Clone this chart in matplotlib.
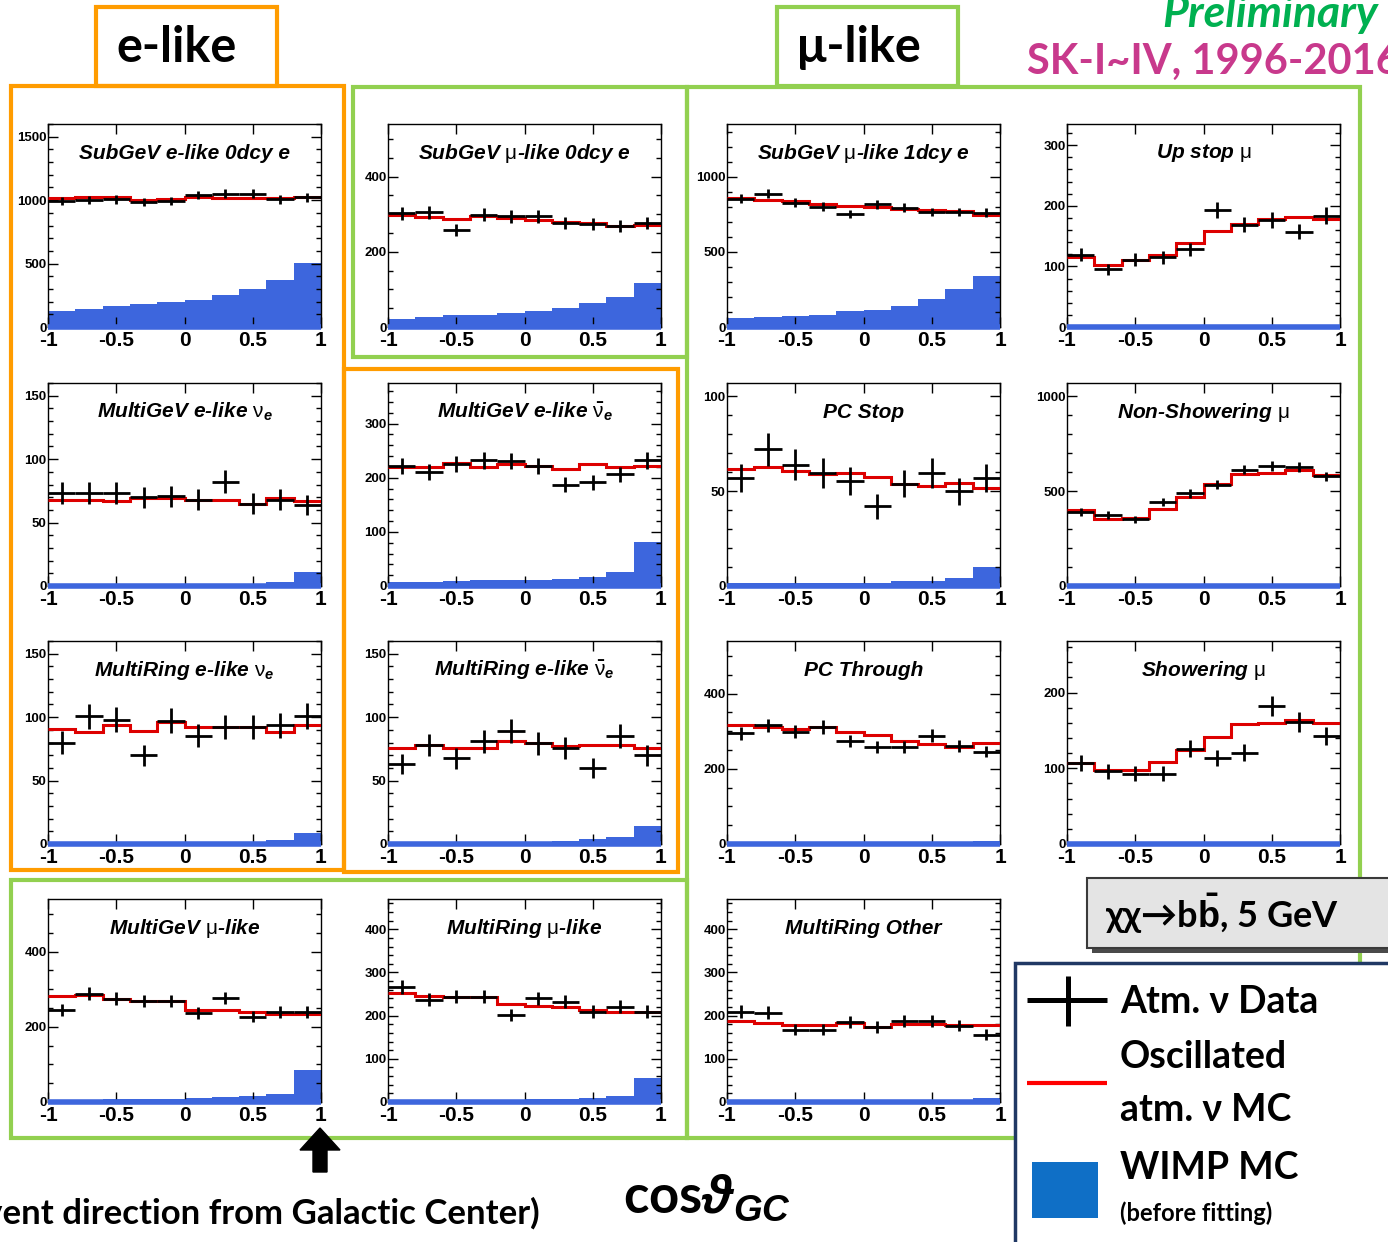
import numpy as np
import matplotlib
matplotlib.use('Agg')
import matplotlib.pyplot as plt
from matplotlib.ticker import MultipleLocator, FixedLocator
from matplotlib.patches import Rectangle

plt.rcParams['mathtext.fontset'] = 'custom'
plt.rcParams['mathtext.rm'] = 'Liberation Sans:bold'
plt.rcParams['mathtext.it'] = 'Liberation Sans:italic:bold'
plt.rcParams['mathtext.bf'] = 'Liberation Sans:bold'
plt.rcParams['mathtext.sf'] = 'Liberation Sans'

# cos(theta_GC) binning: 10 bins from -1 to 1
edges = np.linspace(-1, 1, 11)
centers = 0.5 * (edges[:-1] + edges[1:])

# --- event counts per sample (data, oscillated atm MC, WIMP MC) ---
sub_e0_data = [995, 1000, 1005, 982, 995, 1039, 1052, 1052, 1005, 1021]
sub_e0_mc = [1013, 1026, 1021, 1000, 1005, 1021, 1016, 1016, 1016, 1021]
sub_e0_wimp = [128, 144, 168, 181, 194, 215, 249, 298, 374, 505]

sub_mu0_data = [303, 305, 258, 299, 294, 294, 277, 274, 268, 277]
sub_mu0_mc = [299, 293, 287, 294, 289, 284, 280, 277, 270, 272]
sub_mu0_wimp = [22, 26, 31, 31, 38, 42, 50, 64, 79, 117]

sub_mu1_data = [852, 885, 827, 801, 750, 816, 794, 765, 765, 761]
sub_mu1_mc = [856, 845, 841, 816, 805, 801, 783, 779, 774, 746]
sub_mu1_wimp = [60, 66, 75, 82, 104, 115, 142, 186, 254, 336]

upstop_data = [119, 95, 111, 115, 128, 193, 169, 176, 157, 184]
upstop_mc = [116, 103, 110, 119, 139, 158, 170, 179, 181, 179]
upstop_wimp = [0, 0, 0, 0, 0, 0, 0, 0, 0, 0]

mge_nue_data = [73.5, 73.5, 73.5, 70, 70.6, 68, 82, 65, 68, 64]
mge_nue_mc = [68, 68, 66.7, 69, 69, 68, 68, 65, 69, 66.7]
mge_nue_wimp = [1.3, 1.3, 1.3, 1.3, 1.3, 1.3, 1.3, 1.3, 3.5, 11]

mge_nuebar_data = [222, 211, 226, 232, 231, 221, 187, 192, 206, 232]
mge_nuebar_mc = [219, 219, 227, 219, 225, 221, 217, 225, 219, 222]
mge_nuebar_wimp = [7, 7, 10, 10.5, 10.5, 12, 13.5, 17, 26, 82]

pcstop_data = [57, 72, 64, 59.5, 55.5, 42, 54, 59.5, 50, 57]
pcstop_mc = [61.6, 62.5, 60.7, 59, 59.5, 57.7, 54, 52.5, 54.2, 51.8]
pcstop_wimp = [1.4, 1.4, 1.4, 1.4, 1.4, 1.4, 2.6, 2.8, 4.4, 10]

nonshow_data = [389, 375, 351, 442, 488, 533, 614, 632, 626, 579]
nonshow_mc = [400, 354, 360, 404, 470, 539, 588, 593, 614, 584]
nonshow_wimp = [0, 0, 0, 0, 0, 0, 0, 0, 0, 0]

mre_nue_data = [80, 100.5, 98, 70, 97, 85.5, 92, 92, 93.6, 101]
mre_nue_mc = [91, 88.6, 93.4, 89.4, 95.8, 92.6, 92.6, 92.6, 88, 93.4]
mre_nue_wimp = [1.3, 1.3, 1.3, 1.3, 1.3, 1.3, 1.3, 1.3, 3.2, 8.5]

mre_nuebar_data = [63, 78, 67.5, 81, 89, 79.4, 76, 60, 85, 70]
mre_nuebar_mc = [76, 78, 76, 76, 81, 79.4, 77.5, 78, 78, 76]
mre_nuebar_wimp = [1.3, 1.3, 1.3, 1.3, 1.3, 1.3, 2.6, 4, 5.8, 13.8]

pcthru_data = [294, 316, 299, 311, 274, 258, 258, 288, 261, 246]
pcthru_mc = [316, 310, 305, 310, 298, 290, 274, 265, 259, 270]
pcthru_wimp = [1, 1, 1, 1, 1, 1, 1, 1, 1.5, 7]

show_data = [107, 96, 93, 93, 126, 113, 120.5, 182, 161, 142.6]
show_mc = [107, 98, 98, 108, 124.5, 141, 158, 160, 164, 160]
show_wimp = [0, 0, 0, 0, 0, 0, 0, 0, 0, 0]

mgmu_data = [245, 288, 275, 269, 269, 237, 277, 227, 240, 240]
mgmu_mc = [283, 285, 275, 269, 269, 245, 245, 240, 235, 235]
mgmu_wimp = [5, 6, 7, 8, 9, 10, 12, 15, 22, 85]

mrmu_data = [267, 237, 244, 244, 202, 240, 232, 209, 221, 209]
mrmu_mc = [253, 246, 244, 242, 228, 223, 219, 214, 209, 209]
mrmu_wimp = [3, 4, 4, 5, 5, 6, 7, 9, 14, 55]

mrother_data = [209, 207, 167, 167, 186, 174, 188, 188, 177, 156]
mrother_mc = [188, 184, 179, 179, 184, 174, 181, 181, 179, 179]
mrother_wimp = [1, 1, 1, 1, 1, 1, 1, 1, 2, 10]

BLUE = '#3d66dd'
RED = '#dd0000'
ORANGE = '#ff9c00'
GREEN = '#92d050'

MU = r'$\mathsf{\mu}$'
NUE = r'$\mathsf{\nu}_e$'
NUEBAR = r'$\bar{\mathsf{\nu}}_e$'

W, H = 1388, 1242
fig = plt.figure(figsize=(W / 100, H / 100), dpi=100)

# background layer in pixel units for frames, labels and legend
deco = fig.add_axes([0, 0, 1, 1], zorder=-1)
deco.set_xlim(0, W)
deco.set_ylim(H, 0)
deco.axis('off')


def px_axes(left, top, w=273, h=203):
    return fig.add_axes([left / W, 1 - (top + h) / H, w / W, h / H])


def draw_panel(ax, title, data, mc, wimp, ymax, major, minor):
    data = np.asarray(data, float)
    ax.stairs(wimp, edges, fill=True, color=BLUE, lw=0, zorder=1)
    ax.plot([-1, 1], [0, 0], color=BLUE, lw=4, zorder=3, clip_on=False,
            solid_capstyle='butt')
    ax.stairs(mc, edges, baseline=None, color=RED, lw=2.2, zorder=4)
    ax.errorbar(centers, data, xerr=0.1, yerr=np.sqrt(data), fmt='none',
                ecolor='black', elinewidth=2, capsize=0, zorder=5)
    ax.set_xlim(-1, 1)
    ax.set_ylim(0, ymax)
    ax.xaxis.set_major_locator(FixedLocator([-1, -0.5, 0, 0.5, 1]))
    ax.set_xticklabels(['-1', '-0.5', '0', '0.5', '1'])
    ax.yaxis.set_major_locator(MultipleLocator(major))
    ax.yaxis.set_minor_locator(MultipleLocator(minor))
    ax.tick_params(which='both', direction='in', top=True, right=True, width=1)
    ax.tick_params(which='major', length=7)
    ax.tick_params(which='minor', length=3.5)
    ax.tick_params(axis='x', labelsize=15, pad=3)
    ax.tick_params(axis='y', labelsize=9.5, pad=1)
    for lab in ax.get_xticklabels() + ax.get_yticklabels():
        lab.set_fontweight('bold')
        lab.set_family('Liberation Sans')
    for sp in ax.spines.values():
        sp.set_linewidth(1)
    ax.text(0.5, 0.857, title, transform=ax.transAxes, ha='center', va='center',
            fontsize=15, fontweight='bold', style='italic', family='Liberation Sans')


cols = [48, 388, 727, 1067]
rows = [124, 383, 641, 899]

panels = [
    (0, 0, 'SubGeV e-like 0dcy e', sub_e0_data, sub_e0_mc, sub_e0_wimp, 1600, 500, 100),
    (1, 0, 'SubGeV ' + MU + '-like 0dcy e', sub_mu0_data, sub_mu0_mc, sub_mu0_wimp, 540, 200, 50),
    (2, 0, 'SubGeV ' + MU + '-like 1dcy e', sub_mu1_data, sub_mu1_mc, sub_mu1_wimp, 1350, 500, 100),
    (3, 0, 'Up stop ' + MU, upstop_data, upstop_mc, upstop_wimp, 335, 100, 20),
    (0, 1, 'MultiGeV e-like ' + NUE, mge_nue_data, mge_nue_mc, mge_nue_wimp, 160, 50, 10),
    (1, 1, 'MultiGeV e-like ' + NUEBAR, mge_nuebar_data, mge_nuebar_mc, mge_nuebar_wimp, 375, 100, 20),
    (2, 1, 'PC Stop', pcstop_data, pcstop_mc, pcstop_wimp, 107, 50, 10),
    (3, 1, 'Non-Showering ' + MU, nonshow_data, nonshow_mc, nonshow_wimp, 1070, 500, 100),
    (0, 2, 'MultiRing e-like ' + NUE, mre_nue_data, mre_nue_mc, mre_nue_wimp, 160, 50, 10),
    (1, 2, 'MultiRing e-like ' + NUEBAR, mre_nuebar_data, mre_nuebar_mc, mre_nuebar_wimp, 160, 50, 10),
    (2, 2, 'PC Through', pcthru_data, pcthru_mc, pcthru_wimp, 540, 200, 50),
    (3, 2, 'Showering ' + MU, show_data, show_mc, show_wimp, 268, 100, 20),
    (0, 3, 'MultiGeV ' + MU + '-like', mgmu_data, mgmu_mc, mgmu_wimp, 540, 200, 50),
    (1, 3, 'MultiRing ' + MU + '-like', mrmu_data, mrmu_mc, mrmu_wimp, 470, 100, 20),
    (2, 3, 'MultiRing Other', mrother_data, mrother_mc, mrother_wimp, 470, 100, 20),
]

for c, r, title, d, m, w, ymax, major, minor in panels:
    ax = px_axes(cols[c], rows[r])
    draw_panel(ax, title, d, m, w, ymax, major, minor)


def frame(x0, y0, x1, y1, color, lw=3):
    deco.add_patch(Rectangle((x0, y0), x1 - x0, y1 - y0, fill=False, ec=color, lw=lw))


# sample group frames
frame(96, 7, 277, 86, ORANGE)
frame(11, 86, 344, 870, ORANGE)
frame(344, 369, 678, 872, ORANGE)
frame(353, 87, 687, 357, GREEN)
frame(777, 7, 958, 86, GREEN)
frame(687, 87, 1360, 1138, GREEN)
frame(11, 880, 687, 1138, GREEN)

big = dict(fontweight='bold', family=['Lato', 'DejaVu Sans'])
deco.text(177, 47, 'e-like', ha='center', va='center', fontsize=35, **big)
deco.text(859, 47, 'μ-like', ha='center', va='center', fontsize=35, **big)
deco.text(1162, 14, 'Preliminary', ha='left', va='center', fontsize=32,
          color='#00b050', style='italic', **big)
deco.text(1027, 62, 'SK-I~IV, 1996-2016', ha='left', va='center', fontsize=30,
          color='#c8398c', **big)

# annotations below the panels
deco.arrow(320, 1172, 0, -44, width=14, head_width=40, head_length=22,
           length_includes_head=True, fc='black', ec='black')
deco.text(540, 1213, '(event direction from Galactic Center)', ha='right', va='center',
          fontsize=25, **big)
deco.text(623, 1198, r'cos$\vartheta_{GC}$', ha='left', va='center', fontsize=38, **big)

# signal hypothesis box
deco.add_patch(Rectangle((1092, 883), 320, 70, fc='#4a4a4a', ec='none', zorder=4))
deco.add_patch(Rectangle((1087, 878), 320, 70, fc='#e4e4e4', ec='#3a3a3a', lw=1.5, zorder=4))
deco.text(1105, 914, r'χχ→b$\bar{\mathrm{b}}$, 5 GeV', ha='left', va='center',
          fontsize=26, zorder=5, **big)

# legend
deco.add_patch(Rectangle((1015, 963), 400, 300, fc='white', ec='#203864', lw=2.5, zorder=5))
deco.plot([1027, 1107], [1000, 1000], color='black', lw=3.6, zorder=6, solid_capstyle='butt')
deco.plot([1068, 1068], [976, 1026], color='black', lw=3.6, zorder=6, solid_capstyle='butt')
deco.plot([1027, 1107], [1083, 1083], color='#ff0000', lw=3, zorder=6, solid_capstyle='butt')
deco.add_patch(Rectangle((1032, 1162), 66, 56, fc='#0f6fc6', ec='none', zorder=6))
deco.text(1120, 1002, 'Atm. ν Data', ha='left', va='center', fontsize=27, zorder=7, **big)
deco.text(1120, 1057, 'Oscillated', ha='left', va='center', fontsize=27, zorder=7, **big)
deco.text(1120, 1110, 'atm. ν MC', ha='left', va='center', fontsize=27, zorder=7, **big)
deco.text(1120, 1168, 'WIMP MC', ha='left', va='center', fontsize=27, zorder=7, **big)
deco.text(1120, 1213, '(before fitting)', ha='left', va='center', fontsize=17, zorder=7, **big)

fig.savefig('out.png', dpi=100)
